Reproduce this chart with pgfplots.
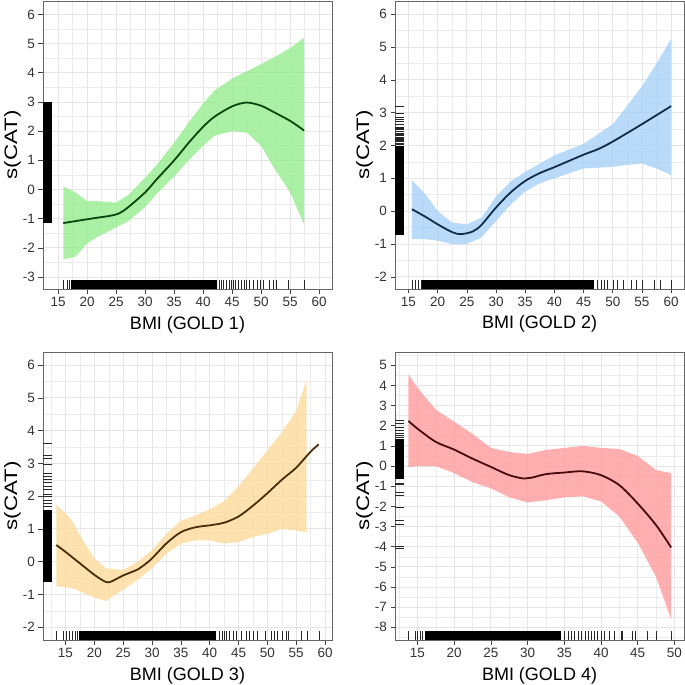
\documentclass[border=0pt]{standalone}
\usepackage{fontspec}
\setmainfont{Liberation Sans}
\usepackage{graphicx}
\usepackage{pgfplots}
\pgfplotsset{compat=1.18}
\definecolor{fillG}{RGB}{149,236,142}
\definecolor{fillB}{RGB}{167,209,246}
\definecolor{fillO}{RGB}{252,219,155}
\definecolor{fillR}{RGB}{255,155,155}
\definecolor{lineG}{RGB}{10,70,12}
\definecolor{lineB}{RGB}{16,44,76}
\definecolor{lineO}{RGB}{72,46,10}
\definecolor{lineR}{RGB}{72,10,16}
\pgfplotsset{
  gam/.style={
    scale only axis, width=289pt, height=288pt,
    anchor=north west,
    axis line style={draw=black!60, line width=0.6pt},
    tick align=outside, tick pos=left,
    major tick length=4.5pt, minor tick length=0pt,
    tick style={black!75, line width=0.6pt},
    grid=both,
    major grid style={color=black!10, line width=0.9pt},
    minor grid style={color=black!8, line width=0.5pt},
    /pgf/number format/assume math mode=true,
    tick label style={font=\fontsize{13.5}{15}\selectfont, text=black!80},
    xlabel style={font=\fontsize{18}{20}\selectfont, at={(axis description cs:0.5,0)}, anchor=base, yshift=-40pt},
    ylabel style={font=\fontsize{18}{20}\selectfont, at={(axis description cs:-0.076,0.5)}, anchor=south, rotate=0, inner sep=0pt},
    ylabel={\scalebox{1.24}[1]{s(CAT)}},
    xtick={15,20,...,60},
    minor xtick={12.5,17.5,...,62.5},
  },
  band/.style={draw=none, fill opacity=0.8},
  curve/.style={line width=1.8pt, smooth},
  xrug/.style={only marks, mark=|, mark size=4.5pt, mark options={line width=0.4pt, draw=black!85}},
  yrug/.style={only marks, mark=-, mark size=4.5pt, mark options={line width=0.4pt, draw=black!85}},
}
\begin{document}
\begin{tikzpicture}
\path[use as bounding box] (0pt,0pt) rectangle (685pt,-685pt);
% ---------------- Panel 1 ----------------
\begin{axis}[gam, at={(43pt,-1pt)},
  xmin=12.4, xmax=62.2, ymin=-3.41, ymax=6.46,
  ytick={-3,...,6}, minor ytick={-3.5,-2.5,...,6.5},
  xlabel={BMI (GOLD 1)}]
\addplot[band, fill=fillG] coordinates {
 (15.9,0.1) (18,-0.1) (20,-0.4) (22,-0.4) (25,-0.45) (27,-0.2) (30,0.4) (32,0.85)
 (35,1.6) (37.5,2.3) (40,2.95) (42,3.4) (45,3.8) (47.5,4.05) (50,4.3) (52,4.5) (55,4.85) (57.4,5.2)
 (57.4,-1.2) (55,-0.1) (52,0.8) (50,1.5) (47.5,1.95) (45,2.0) (42,1.85) (40,1.5) (37.5,1.0)
 (35,0.45) (32,-0.15) (30,-0.6) (27,-1.1) (25,-1.3) (22,-1.6) (20,-1.85) (18,-2.3) (15.9,-2.4)} -- cycle;
\addplot[curve, lineG] coordinates {
 (15.9,-1.15) (20,-1.02) (22,-0.96) (24,-0.9) (25.5,-0.82) (27,-0.62) (30,-0.1) (32,0.35)
 (35,1.0) (37.5,1.6) (40,2.15) (42,2.5) (45,2.85) (47.5,2.98) (50,2.87) (52,2.67) (55,2.35) (57.4,2.02)};
\addplot[fill=black, draw=none] coordinates {(12.4,-1.15) (13.95,-1.15) (13.95,3.0) (12.4,3.0)} -- cycle;
\addplot[fill=black, draw=none] coordinates {(17.3,-3.41) (42.3,-3.41) (42.3,-3.10) (17.3,-3.10)} -- cycle;
\addplot[xrug] coordinates {
 (15.9,-3.255) (16.5,-3.255) (17.0,-3.255) (42.7,-3.255) (43.1,-3.255) (43.5,-3.255) (44,-3.255)
 (44.4,-3.255) (44.8,-3.255) (45.1,-3.255) (45.6,-3.255) (46.1,-3.255) (46.6,-3.255) (47,-3.255)
 (47.5,-3.255) (48,-3.255) (48.6,-3.255) (49.3,-3.255) (49.8,-3.255) (50.3,-3.255) (51.4,-3.255)
 (52.1,-3.255) (52.6,-3.255) (54.6,-3.255) (57.4,-3.255)};
\end{axis}
% ---------------- Panel 2 ----------------
\begin{axis}[gam, at={(395pt,-1pt)},
  xmin=12.7, xmax=62.2, ymin=-2.37, ymax=6.4,
  ytick={-2,...,6}, minor ytick={-2.5,-1.5,...,6.5},
  xlabel={BMI (GOLD 2)}]
\addplot[band, fill=fillB] coordinates {
 (15.6,0.95) (18,0.5) (20,0.0) (22.5,-0.35) (25,-0.4) (27.5,-0.2) (30,0.45) (32.5,0.9)
 (35,1.2) (37.5,1.45) (40,1.7) (45,2.05) (50,2.65) (52,3.1) (55,3.8) (57.5,4.5) (60,5.25)
 (60,1.1) (57.5,1.3) (55,1.45) (52,1.4) (50,1.35) (45,1.3) (40,1.0) (37.5,0.85) (35,0.6)
 (32.5,0.2) (30,-0.3) (27.5,-0.8) (25,-1.0) (22.5,-1.0) (20,-0.9) (18,-0.85) (15.6,-0.85)} -- cycle;
\addplot[curve, lineB] coordinates {
 (15.6,0.06) (18,-0.18) (20,-0.4) (22.5,-0.64) (24,-0.7) (26,-0.62) (27.5,-0.42) (30,0.11)
 (32.5,0.57) (35,0.92) (37.5,1.16) (40,1.34) (45,1.72) (47.5,1.89) (50,2.12) (55,2.65) (60,3.2)};
\addplot[fill=black, draw=none] coordinates {(12.7,-0.72) (14.25,-0.72) (14.25,1.98) (12.7,1.98)} -- cycle;
\addplot[yrug] coordinates {
 (13.475,3.2) (13.475,2.97) (13.475,2.87) (13.475,2.8) (13.475,2.73) (13.475,2.65) (13.475,2.56)
 (13.475,2.52) (13.475,2.49) (13.475,2.45) (13.475,2.42) (13.475,2.38) (13.475,2.34) (13.475,2.3)
 (13.475,2.26) (13.475,2.22) (13.475,2.19) (13.475,2.15) (13.475,2.12) (13.475,2.08) (13.475,2.04)};
\addplot[fill=black, draw=none] coordinates {(17.3,-2.37) (46.8,-2.37) (46.8,-2.096) (17.3,-2.096)} -- cycle;
\addplot[xrug] coordinates {
 (15.6,-2.233) (16.1,-2.233) (16.7,-2.233) (17.2,-2.233) (47.4,-2.233) (48,-2.233) (48.5,-2.233)
 (49.1,-2.233) (50,-2.233) (50.8,-2.233) (51.7,-2.233) (53.1,-2.233) (54,-2.233) (55.1,-2.233)
 (57.1,-2.233) (58.2,-2.233) (60,-2.233)};
\end{axis}
% ---------------- Panel 3 ----------------
\begin{axis}[gam, at={(43pt,-352pt)},
  xmin=11.1, xmax=61.2, ymin=-2.39, ymax=6.4,
  ytick={-2,...,6}, minor ytick={-2.5,-1.5,...,6.5},
  xlabel={BMI (GOLD 3)}]
\addplot[band, fill=fillO] coordinates {
 (13.4,1.75) (16,1.3) (17.5,0.8) (20,0.1) (22,-0.2) (25,-0.25) (27.5,0.0) (30,0.35) (32.5,0.85)
 (35,1.25) (37.5,1.4) (40,1.6) (42.5,1.85) (45,2.3) (47.5,2.85) (50,3.4) (52.5,3.95) (55,4.6) (56.8,5.55)
 (56.8,0.9) (55,0.95) (52.5,1.0) (50,0.85) (47.5,0.75) (45,0.6) (42.5,0.55) (40,0.65) (37.5,0.65)
 (35,0.55) (32.5,0.25) (30,-0.2) (27.5,-0.55) (25,-0.85) (22,-1.2) (20,-1.1) (17.5,-0.9) (16,-0.8) (13.4,-0.75)} -- cycle;
\addplot[curve, lineO] coordinates {
 (13.4,0.51) (15,0.3) (17.5,-0.05) (20,-0.4) (22,-0.62) (23,-0.6) (25,-0.42) (27.5,-0.24)
 (28.5,-0.12) (30,0.1) (32.5,0.56) (35,0.9) (37.5,1.05) (40,1.11) (42.5,1.19) (45,1.38)
 (47.5,1.71) (50,2.09) (52.5,2.5) (55,2.87) (57.5,3.36) (58.9,3.58)};
\addplot[fill=black, draw=none] coordinates {(11.1,-0.62) (12.66,-0.62) (12.66,1.58) (11.1,1.58)} -- cycle;
\addplot[yrug] coordinates {
 (11.88,3.61) (11.88,3.26) (11.88,3.15) (11.88,2.98) (11.88,2.7) (11.88,2.6) (11.88,2.51) (11.88,2.44)
 (11.88,2.29) (11.88,2.21) (11.88,2.07) (11.88,1.99) (11.88,1.88) (11.88,1.78) (11.88,1.68)};
\addplot[fill=black, draw=none] coordinates {(17.4,-2.39) (41.1,-2.39) (41.1,-2.116) (17.4,-2.116)} -- cycle;
\addplot[xrug] coordinates {
 (13.4,-2.253) (14.65,-2.253) (15.1,-2.253) (15.7,-2.253) (16.15,-2.253) (16.6,-2.253) (17.0,-2.253)
 (41.6,-2.253) (42.1,-2.253) (42.5,-2.253) (42.9,-2.253) (43.4,-2.253) (44,-2.253) (44.6,-2.253)
 (45.4,-2.253) (46.3,-2.253) (46.9,-2.253) (47.6,-2.253) (48.3,-2.253) (49.7,-2.253) (50.6,-2.253)
 (51.2,-2.253) (51.7,-2.253) (52.5,-2.253) (53.2,-2.253) (53.6,-2.253) (55.8,-2.253) (56.9,-2.253) (58.9,-2.253)};
\end{axis}
% ---------------- Panel 4 ----------------
\begin{axis}[gam, at={(395pt,-352pt)},
  xmin=11.95, xmax=51.3, ymin=-8.63, ymax=5.66,
  xtick={15,20,...,50}, minor xtick={12.5,17.5,...,52.5},
  ytick={-8,...,5}, minor ytick={-8.5,-7.5,...,5.5},
  xlabel={BMI (GOLD 4)}]
\addplot[band, fill=fillR] coordinates {
 (13.77,4.55) (15,3.9) (17.5,2.8) (20,2.2) (22.5,1.6) (25,0.9) (27.5,0.7) (30,0.6) (32.5,0.8)
 (35,0.9) (37.5,1.0) (40,0.9) (42.5,0.85) (45,0.5) (47.5,-0.2) (49.55,-0.35)
 (49.55,-7.6) (47.5,-5.5) (45,-3.8) (42.5,-2.5) (40,-1.75) (37.5,-1.5) (35,-1.55) (32.5,-1.7)
 (30,-1.8) (27.5,-1.55) (25,-1.1) (22.5,-0.8) (20,-0.35) (17.5,0.0) (15,0.0) (13.77,-0.05)} -- cycle;
\addplot[curve, lineR] coordinates {
 (13.77,2.24) (15,1.86) (17.5,1.2) (20,0.82) (22.5,0.37) (25,-0.04) (27.5,-0.45) (29.5,-0.62)
 (30.5,-0.58) (32.5,-0.4) (35,-0.32) (37.5,-0.26) (40,-0.45) (42.5,-0.95) (45,-1.86) (47.5,-2.93) (49.55,-4.04)};
\addplot[fill=black, draw=none] coordinates {(11.95,-0.62) (13.18,-0.62) (13.18,1.36) (11.95,1.36)} -- cycle;
\addplot[yrug] coordinates {
 (12.565,2.27) (12.565,2.14) (12.565,1.91) (12.565,1.78) (12.565,1.64) (12.565,1.53) (12.565,1.45)
 (12.565,-0.83) (12.565,-0.92) (12.565,-1.28) (12.565,-1.45) (12.565,-2.02) (12.565,-2.69)
 (12.565,-2.88) (12.565,-3.98) (12.565,-4.09)};
\addplot[fill=black, draw=none] coordinates {(16.05,-8.63) (34.5,-8.63) (34.5,-8.184) (16.05,-8.184)} -- cycle;
\addplot[xrug] coordinates {
 (13.77,-8.407) (14.7,-8.407) (15.0,-8.407) (15.4,-8.407) (15.7,-8.407) (35,-8.407) (35.5,-8.407)
 (36,-8.407) (36.4,-8.407) (36.9,-8.407) (37.3,-8.407) (37.8,-8.407) (38.2,-8.407) (38.6,-8.407)
 (39.1,-8.407) (39.5,-8.407) (40,-8.407) (40.4,-8.407) (41.1,-8.407) (41.8,-8.407) (42.7,-8.407)
 (42.9,-8.407) (44.3,-8.407) (44.6,-8.407) (46.3,-8.407) (47.5,-8.407) (49.55,-8.407)};
\end{axis}
\end{tikzpicture}
\end{document}
